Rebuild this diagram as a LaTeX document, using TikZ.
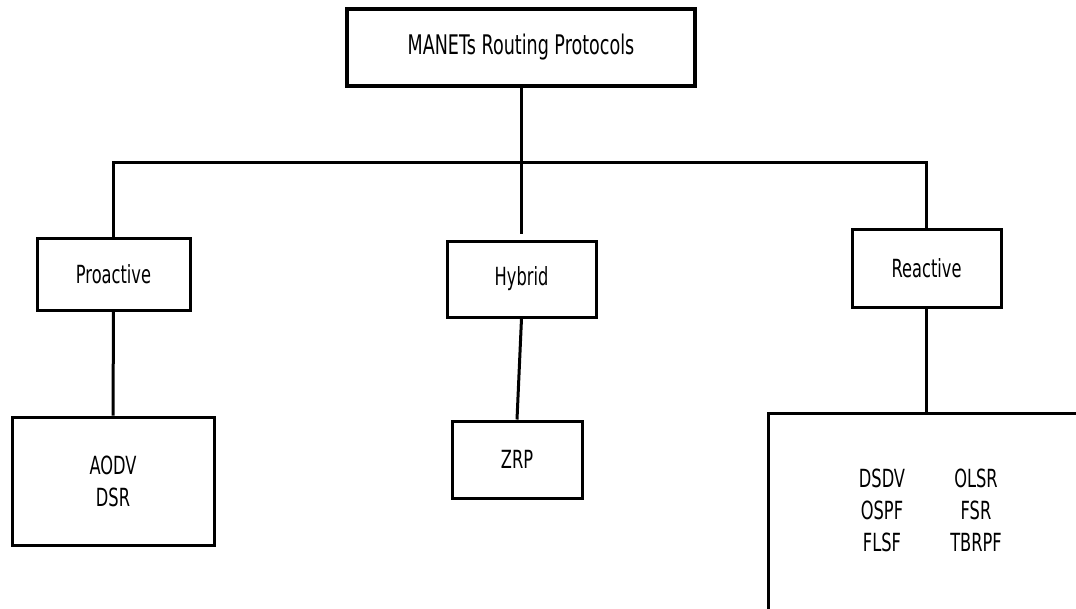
\documentclass[tikz,border=0pt]{standalone}
\usepackage{fontspec}
\usepackage{array}
\newfontfamily\lab[FakeStretch=0.65]{DejaVu Sans}
\begin{document}
\begin{tikzpicture}[x=1pt,y=-1pt,line width=3pt,
  box/.style={draw,line width=3pt,inner sep=0pt,align=center,
    font=\lab\fontsize{25}{32}\selectfont},
  txt/.style={inner sep=0pt,align=center,font=\lab\fontsize{25}{32}\selectfont}]
\useasboundingbox (0,0) rectangle (1076,608);

% boxes
\node[box,line width=3.5pt,minimum width=348pt,minimum height=77pt,
  font=\lab\fontsize{27}{32}\selectfont] (top) at (521,47.5) {MANETs Routing Protocols};
\node[box,minimum width=153pt,minimum height=72pt] (pro) at (113.5,274) {Proactive};
\node[box,minimum width=149pt,minimum height=76pt] (hyb) at (521.5,279) {Hybrid};
\node[box,minimum width=149pt,minimum height=78pt] (rea) at (926.5,268) {Reactive};
\node[box,minimum width=202pt,minimum height=128pt] (aodv) at (113,481) {AODV\\DSR};
\node[box,minimum width=130pt,minimum height=77pt] (zrp) at (517,459.5) {ZRP};
\node[box,minimum width=322pt,minimum height=197pt] (big) at (929,511.5) {};
\node[txt] (list) at (929,513)
  {\begin{tabular}{@{}wc{60pt}@{\hspace{34pt}}wc{60pt}@{}}
   DSDV & OLSR\\ OSPF & FSR\\ FLSF & TBRPF
   \end{tabular}};

% connectors
\coordinate (bus) at (521,162);
\draw (top.south) -- (top.south |- bus);
\draw (pro.north) -- (pro.north |- bus) -- (rea.north |- bus) -- (rea.north);
\draw[shorten >=6pt] (hyb.north |- bus) -- (hyb.north);
\draw (pro.south) -- (aodv.north);
\draw (hyb.south) -- (zrp.north);
\draw (rea.south) -- (rea.south |- big.north);
\end{tikzpicture}
\end{document}
